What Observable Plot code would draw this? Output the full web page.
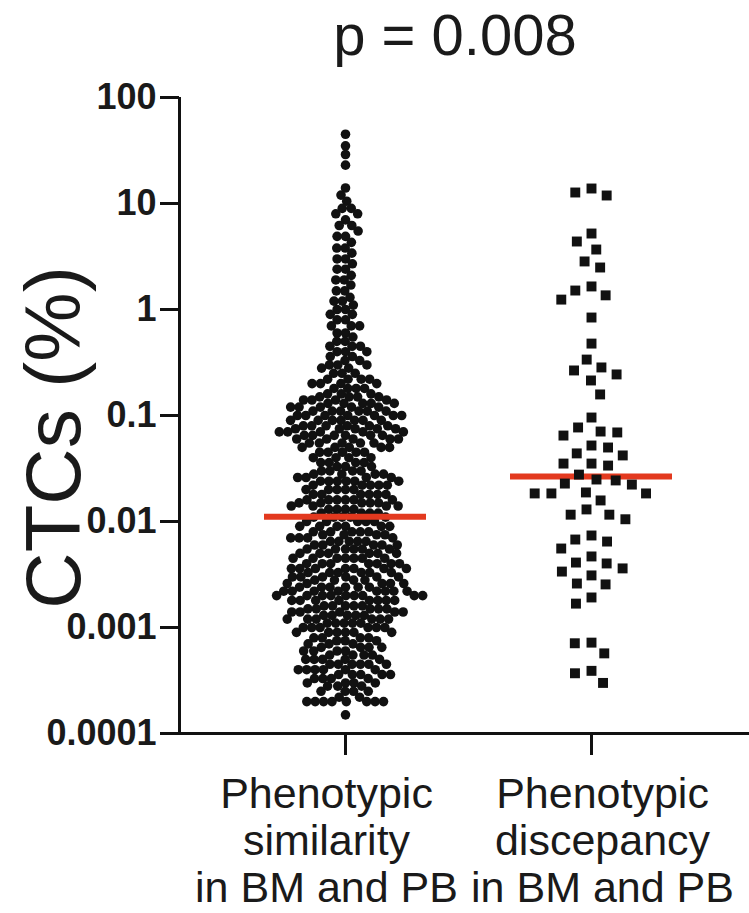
<!DOCTYPE html>
<html>
<head>
<meta charset="utf-8">
<script src="https://cdn.jsdelivr.net/npm/d3@7"></script>
<script src="https://cdn.jsdelivr.net/npm/@observablehq/plot@0.6"></script>
<style>
  html, body { margin: 0; padding: 0; background: #fff; }
  body { width: 749px; height: 913px; overflow: hidden; font-family: "Liberation Sans", Arial, sans-serif; }
  #title { position: relative; width: 910px; height: 75px; line-height: 70px; text-align: center; font-size: 58px; color: #1a1a1a; }
  #chart { position: relative; width: 749px; height: 838px; }
  #chart svg { display: block; position: absolute; left: 0; top: 0; }
</style>
</head>
<body>
<div id="title">p = 0.008</div>
<div id="chart"></div>
<script>
// Categories (x axis)
const groups = ["Phenotypic\nsimilarity\nin BM and PB", "Phenotypic\ndiscepancy\nin BM and PB"];

const similarityLevels = [
  45, 35, 29, 23,
  14, 12, 10.5, 9, 8, 7, 6.2, 5.5, 4.9, 4.3, 3.8, 3.4, 3, 2.7, 2.4, 2.1, 1.9, 1.7, 1.5, 1.3, 1.2, 1.1, 1.0,
  0.9, 0.8, 0.7, 0.6, 0.55, 0.5, 0.45, 0.4, 0.36, 0.33, 0.3, 0.28, 0.25, 0.22, 0.2, 0.18, 0.16, 0.15, 0.14, 0.13, 0.12, 0.11, 0.1,
  0.09, 0.08, 0.075, 0.07, 0.065, 0.06, 0.055, 0.05, 0.045, 0.04, 0.036, 0.033, 0.03, 0.028, 0.026, 0.024, 0.022, 0.02, 0.018, 0.016, 0.015, 0.014, 0.013, 0.012,
  0.011, 0.01, 0.009, 0.008, 0.0075, 0.007, 0.0065, 0.006, 0.0055, 0.005, 0.0045, 0.004, 0.0036, 0.0033, 0.003, 0.0028, 0.0026, 0.0024, 0.0022, 0.002,
  0.0018, 0.0016, 0.0015, 0.0014, 0.0013, 0.0012, 0.0011, 0.001, 0.0009, 0.0008, 0.00075, 0.0007, 0.00065, 0.0006, 0.00055, 0.0005,
  0.00045, 0.0004, 0.00036, 0.00033, 0.0003, 0.00028, 0.00025, 0.00022, 0.0002, 0.00015
];
const similarityCounts = [
  1, 1, 1, 1,
  1, 1, 1, 2, 2, 1, 2, 1, 2, 1, 2, 1, 2, 1, 2, 1, 2, 1, 2, 1, 2, 1, 2,
  2, 2, 3, 2, 1, 2, 3, 3, 2, 2, 3, 2, 3, 4, 4, 4, 3, 4, 4, 5, 5, 6, 7,
  7, 6, 5, 5, 6, 5, 5, 5, 5, 4, 4, 3, 4, 4, 4, 6, 5, 5, 6, 6, 5, 4, 4, 4,
  5, 5, 6, 5, 4, 4, 5, 5, 6, 6, 7, 7, 7, 6, 6, 4, 5, 6, 8, 9,
  8, 5, 5, 5, 5, 6, 5, 6, 6, 4, 3, 3, 4, 4, 4, 5,
  6, 6, 5, 4, 4, 3, 4, 2, 8, 1
];

// Group 2 (squares): individual CTC % values
const discrepancyValues = [
  13.85, 12.70, 11.90,
  5.21, 4.38, 3.68, 2.84, 2.49,
  1.65, 1.51, 1.36, 1.24, 0.84,
  0.477, 0.337, 0.284, 0.266, 0.244, 0.214, 0.158,
  0.0957, 0.0771, 0.0706, 0.0692, 0.0647, 0.0521, 0.0499, 0.0439,
  0.0420, 0.0352, 0.0352, 0.0337,
  0.0277, 0.0249, 0.0244, 0.0228, 0.0223,
  0.0188, 0.0184, 0.0184, 0.0184, 0.0158,
  0.0130, 0.0116, 0.0116, 0.0105,
  0.00738, 0.00676, 0.00647, 0.00556,
  0.00468, 0.00410, 0.00402, 0.00361, 0.00337, 0.00310,
  0.00260, 0.00255, 0.00192, 0.00168,
  0.00072, 0.00071, 0.00057, 0.00039, 0.00037, 0.00030
];

// Medians (red lines)
const medians = [0.0111, 0.0266];

// Y axis ticks
const yTicks = [100, 10, 1, 0.1, 0.01, 0.001, 0.0001];
const yTickLabels = ["100", "10", "1", "0.1", "0.01", "0.001", "0.0001"];
const yLabel = "CTCs (%)";

// Build tables for Plot
const similarityData = similarityLevels.flatMap((v, i) =>
  Array.from({length: similarityCounts[i]}, () => ({group: groups[0], value: v})));
const discrepancyData = discrepancyValues.map(v => ({group: groups[1], value: v}));
const medianData = groups.map((g, i) => ({group: g, value: medians[i]}));

const red = "#e3391f";
const ink = "#111";
const font = '"Liberation Sans", Arial, sans-serif';
const frameOpts = {width: 749, height: 838, marginTop: 22, marginBottom: 180, marginLeft: 179, marginRight: 0};
const yScale = {type: "log", domain: [1e-4, 100]};
const labelStyle = {tickSize: 0, tickPadding: 41, fontSize: 43, lineHeight: 1.09, fill: "#1a1a1a", label: null};

// Layer 1: faceted data (dots, medians, category axis)
const dataLayer = Plot.plot({
  ...frameOpts,
  style: {fontFamily: font, background: "transparent", color: "#1a1a1a"},
  fx: {domain: groups, paddingInner: 0.3415, paddingOuter: 0.329, align: 0.5247},
  y: {...yScale, axis: null},
  marks: [
    Plot.ruleY(medianData.slice(1), {fx: "group", y: "value", stroke: red, strokeWidth: 6}),
    Plot.dot(discrepancyData, Plot.dodgeX({anchor: "middle", padding: 5.5}, {fx: "group", y: "value", r: 5.6, symbol: "square", fill: ink, stroke: null})),
    Plot.dot(similarityData, Plot.dodgeX({anchor: "middle", padding: -1.2}, {fx: "group", y: "value", r: 4.8, fill: ink, stroke: null})),
    Plot.ruleY(medianData.slice(0, 1), {fx: "group", y: "value", stroke: red, strokeWidth: 6}),
    Plot.axisFx({anchor: "bottom", tickSize: 22, tickFormat: () => "", stroke: ink, strokeWidth: 3, label: null}),
    Plot.axisFx({anchor: "bottom", ticks: [groups[0]], dx: -19, ...labelStyle}),
    Plot.axisFx({anchor: "bottom", ticks: [groups[1]], dx: 11, ...labelStyle})
  ]
});

// Layer 2: value axis, axis lines and axis title
const axisLayer = Plot.plot({
  ...frameOpts,
  style: {fontFamily: font, background: "transparent", color: "#1a1a1a"},
  x: {domain: [0, 1], axis: null},
  y: {...yScale},
  marks: [
    Plot.ruleY([1e-4], {stroke: ink, strokeWidth: 3, insetLeft: -18}),
    Plot.ruleX([0], {stroke: ink, strokeWidth: 3}),
    Plot.axisY({ticks: yTicks, tickFormat: d => yTickLabels[yTicks.indexOf(d)], tickSize: 19, tickPadding: 4,
      fontSize: 36, fontWeight: "bold", stroke: ink, strokeWidth: 3, label: null}),
    Plot.text([yLabel], {text: d => d, frameAnchor: "left", textAnchor: "middle", rotate: -90, fontSize: 78, dx: -124, dy: 22, fill: "#1a1a1a"})
  ]
});

const holder = document.getElementById("chart");
holder.appendChild(dataLayer);
holder.appendChild(axisLayer);
</script>
</body>
</html>
